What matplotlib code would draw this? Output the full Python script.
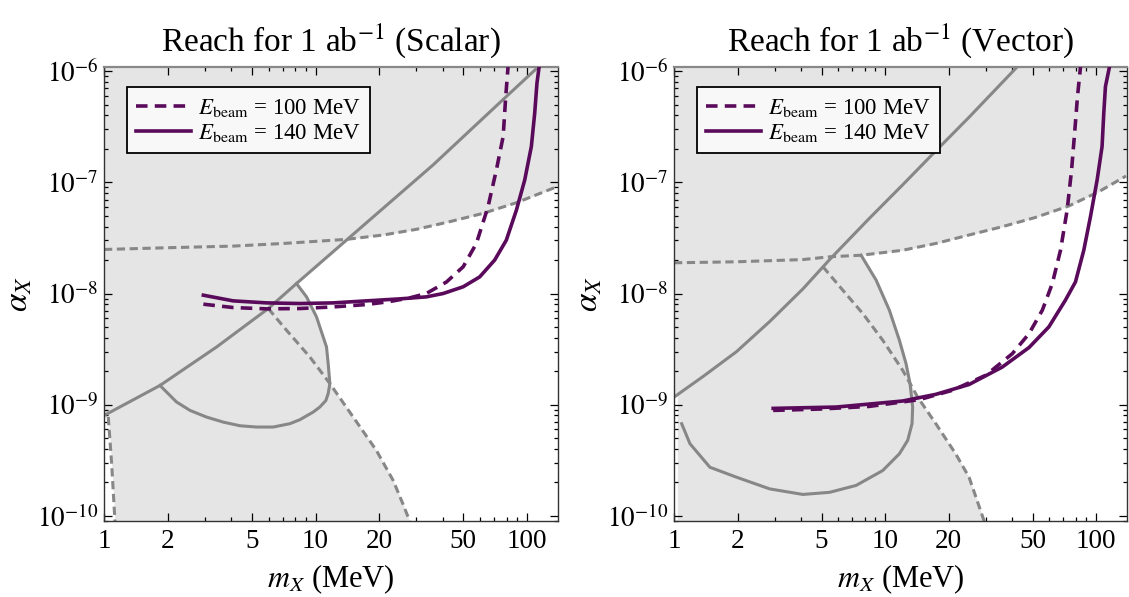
import numpy as np
import matplotlib
matplotlib.use("Agg")
import matplotlib.pyplot as plt
from matplotlib.lines import Line2D

plt.rcParams['font.family'] = ['Liberation Serif', 'DejaVu Serif']
plt.rcParams['mathtext.fontset'] = 'stix'

# ---------------- data (m_X in MeV, alpha_X) ----------------
# Scalar panel
s_diag_m = np.array([1.0, 1.84, 3.41, 5.98, 8.13, 14.0, 35.9, 79.8, 112.7])
s_diag_a = np.array([8.0e-10, 1.49e-9, 3.31e-9, 7.33e-9, 1.23e-8, 3.02e-8, 1.43e-7, 5.91e-7, 1.087e-6])
s_up_m = np.array([1.0, 1.98, 4.08, 7.03, 14.0, 20.9, 30.0, 43.1, 62.0, 89.1, 138.6])
s_up_a = np.array([2.49e-8, 2.58e-8, 2.67e-8, 2.82e-8, 3.07e-8, 3.36e-8, 3.78e-8, 4.43e-8, 5.26e-8, 6.56e-8, 9.14e-8])
s_loop_m = np.array([1.84, 1.977, 2.20, 2.55, 3.05, 3.66, 4.39, 5.26, 6.31, 7.56, 8.43, 9.75, 10.48,
                     11.19, 11.48, 11.69, 11.48, 11.27, 10.11, 9.07, 8.13])
s_loop_a = np.array([1.49e-9, 1.30e-9, 1.06e-9, 8.89e-10, 7.75e-10, 6.98e-10, 6.47e-10, 6.30e-10,
                     6.30e-10, 6.75e-10, 7.33e-10, 8.59e-10, 9.53e-10, 1.09e-9, 1.26e-9, 1.55e-9,
                     2.34e-9, 3.31e-9, 6.16e-9, 9.33e-9, 1.23e-8])
s_low_m = np.array([5.98, 7.29, 9.40, 11.69, 15.07, 19.4, 23.3, 25.9, 27.9])
s_low_a = np.array([7.33e-9, 4.68e-9, 2.69e-9, 1.55e-9, 7.75e-10, 3.88e-10, 2.08e-10, 1.28e-10, 8.95e-11])
s_edge_m = np.array([1.048, 1.087, 1.127])
s_edge_a = np.array([7.75e-10, 2.94e-10, 8.95e-11])
s_e100_m = np.array([2.95, 4.08, 5.87, 8.43, 12.12, 17.4, 22.4, 27.9, 33.4, 41.6, 49.9, 57.6, 65.4,
                     71.6, 77.1, 79.3, 81.3])
s_e100_a = np.array([8.02e-9, 7.48e-9, 7.28e-9, 7.33e-9, 7.58e-9, 7.96e-9, 8.47e-9, 9.14e-9, 1.0e-8,
                     1.27e-8, 1.74e-8, 2.82e-8, 6.04e-8, 1.29e-7, 2.58e-7, 5.91e-7, 1.087e-6])
s_e140_m = np.array([2.95, 4.08, 5.87, 8.43, 12.12, 17.4, 25.0, 33.4, 40.1, 49.9, 59.7, 70.3, 79.8,
                     89.1, 97.5, 104.8, 108.7, 111.4, 114.0])
s_e140_a = np.array([9.66e-9, 8.59e-9, 8.24e-9, 8.13e-9, 8.24e-9, 8.59e-9, 8.95e-9, 9.33e-9, 1.0e-8,
                     1.15e-8, 1.41e-8, 2.0e-8, 3.02e-8, 5.64e-8, 1.05e-7, 2.10e-7, 4.19e-7, 7.8e-7, 1.087e-6])

# Vector panel
v_diag_m = np.array([1.0, 1.376, 1.977, 2.84, 4.08, 5.5, 8.43, 12.12, 17.4, 25.0, 42.4])
v_diag_a = np.array([1.17e-9, 1.80e-9, 3.0e-9, 5.6e-9, 1.1e-8, 2.05e-8, 4.75e-8, 9.5e-8, 1.92e-7,
                     3.85e-7, 1.1e-6])
v_up_m = np.array([1.0, 1.98, 4.08, 5.46, 7.70, 12.12, 17.4, 25.0, 35.9, 51.7, 74.1, 103.0, 138.6])
v_up_a = np.array([1.89e-8, 1.93e-8, 2.02e-8, 2.14e-8, 2.21e-8, 2.45e-8, 2.82e-8, 3.36e-8, 3.99e-8,
                   4.84e-8, 6.12e-8, 8.24e-8, 1.14e-7])
v_loop_m = np.array([7.70, 9.07, 10.48, 11.69, 12.57, 13.13, 13.51, 13.42, 12.8, 11.69, 9.75, 7.29,
                     5.46, 4.08, 2.84, 1.977, 1.479, 1.19, 1.087])
v_loop_a = np.array([2.21e-8, 1.32e-8, 7.08e-9, 3.80e-9, 2.34e-9, 1.55e-9, 9.53e-10, 6.75e-10, 4.78e-10,
                     3.62e-10, 2.56e-10, 1.88e-10, 1.63e-10, 1.56e-10, 1.75e-10, 2.23e-10, 2.74e-10,
                     4.46e-10, 6.75e-10])
v_low_m = np.array([5.08, 6.31, 7.84, 9.75, 12.12, 14.27, 17.4, 21.6, 25.0, 29.5])
v_low_a = np.array([1.74e-8, 1.07e-8, 6.61e-9, 3.80e-9, 2.04e-9, 1.17e-9, 6.75e-10, 3.62e-10, 2.23e-10, 8.95e-11])
v_e100_m = np.array([2.95, 4.90, 8.43, 14.5, 20.9, 30.0, 40.1, 48.1, 55.6, 62.0, 67.8, 72.9, 76.5,
                     79.3, 81.6, 84.3])
v_e100_a = np.array([8.89e-10, 9.14e-10, 9.66e-10, 1.11e-9, 1.35e-9, 1.84e-9, 2.88e-9, 4.36e-9, 7.08e-9,
                     1.23e-8, 2.45e-8, 5.64e-8, 1.29e-7, 2.96e-7, 5.91e-7, 1.087e-6])
v_e140_m = np.array([2.95, 5.87, 12.12, 17.4, 25.0, 35.9, 48.1, 59.7, 71.5, 79.8, 87.4, 94.0, 101.1,
                     106.7, 108.7, 110.7, 115.6])
v_e140_a = np.array([9.27e-10, 9.53e-10, 1.08e-9, 1.24e-9, 1.52e-9, 2.18e-9, 3.27e-9, 5.01e-9, 8.71e-9,
                     1.27e-8, 2.45e-8, 4.91e-8, 1.05e-7, 2.10e-7, 4.19e-7, 7.27e-7, 1.087e-6])

titles = [r"Reach for 1 ab$^{-1}$ (Scalar)", r"Reach for 1 ab$^{-1}$ (Vector)"]
legend_labels = [r"$E_{\mathrm{beam}}$ = 100 MeV", r"$E_{\mathrm{beam}}$ = 140 MeV"]
xticks = [1, 2, 5, 10, 20, 50, 100]
xlim = (1, 140)
ylim = (9e-11, 1.09e-6)

SHADE = '#e5e5e5'
GRAY = '#878787'
PURPLE = '#5a0a5a'


def interp_x(m, a, y):
    o = np.argsort(a)
    out = 10 ** np.interp(np.log10(y), np.log10(a[o]), np.log10(m[o]))
    out[(y < a.min()) | (y > a.max())] = np.nan
    return out


def right_branch(m, a):
    k = np.argmax(m)
    if a[0] > a[-1]:
        return m[:k + 1], a[:k + 1]
    return m[k:], a[k:]


def panel(ax, diag, up, loop, low, e100, e140, edge, title):
    top = 1e-5
    ax.fill_between(up[0], up[1], top, color=SHADE, lw=0, zorder=0)
    ax.fill_between(diag[0], diag[1], top, color=SHADE, lw=0, zorder=0)
    lm, la = right_branch(*loop)
    ymax = max(la.max(), low[1].max())
    y = np.geomspace(5e-11, ymax, 600)
    xr = np.fmax(np.nan_to_num(interp_x(lm, la, y), nan=0), np.nan_to_num(interp_x(low[0], low[1], y), nan=0))
    if isinstance(edge, tuple):
        xl = interp_x(edge[0], edge[1], y)
        xl = np.where(y > edge[1].max(), 0.9, xl)
        xl = np.where(y < edge[1].min(), edge[0].max(), xl)
    else:
        xl = np.full_like(y, edge)
    ax.fill_betweenx(y, xl, xr, where=xr > xl, color=SHADE, lw=0, zorder=0)

    kw = dict(color=GRAY, lw=2.2, zorder=2)
    ax.plot(diag[0], diag[1], **kw)
    ax.plot(loop[0], loop[1], **kw)
    ax.plot(up[0], up[1], dashes=(2.7, 1.5), **kw)
    ax.plot(low[0], low[1], dashes=(2.7, 1.5), **kw)
    if isinstance(edge, tuple):
        ax.plot(edge[0], edge[1], dashes=(2.7, 1.5), **kw)

    ax.plot(e100[0], e100[1], color=PURPLE, lw=2.6, dashes=(3.2, 2.0), zorder=3)
    ax.plot(e140[0], e140[1], color=PURPLE, lw=2.6, zorder=3)

    ax.set_xscale('log')
    ax.set_yscale('log')
    ax.set_xlim(*xlim)
    ax.set_xticks(xticks)
    ax.set_xticklabels([str(t) for t in xticks])
    ax.set_xticks([3, 4, 6, 7, 8, 9, 30, 40, 60, 70, 80, 90], minor=True)
    ax.set_yticks([1e-10, 1e-9, 1e-8, 1e-7, 1e-6])
    ax.set_yticklabels([r"$10^{-10}$", r"$10^{-9}$", r"$10^{-8}$", r"$10^{-7}$", r"$10^{-6}$"])
    ax.set_yticks([k * 10.0 ** e for e in range(-11, -5) for k in range(2, 10)], minor=True)
    ax.set_ylim(*ylim)
    ax.tick_params(which='both', direction='in', top=True, right=True, labelsize=19.5, width=0.9)
    ax.tick_params(which='major', length=6)
    ax.tick_params(which='minor', length=3)
    ax.tick_params(axis='x', pad=6)
    ax.tick_params(axis='y', pad=4)
    for s in ax.spines.values():
        s.set_color('#333333')
        s.set_linewidth(1.0)
    ax.spines['top'].set_color('#888888')
    ax.spines['top'].set_linewidth(1.6)

    ax.set_xlabel(r"$m_X$ (MeV)", fontsize=22, labelpad=6)
    ax.set_ylabel(r"$\alpha_X$", fontsize=24, labelpad=2)
    ax.set_title(title, fontsize=24, pad=12)

    handles = [Line2D([], [], color=PURPLE, lw=2.6, dashes=(3.2, 2.0)),
               Line2D([], [], color=PURPLE, lw=2.6)]
    leg = ax.legend(handles, legend_labels, loc='upper left', bbox_to_anchor=(0.05, 0.955),
                    borderaxespad=0, fontsize=16.5, handlelength=2.4, handletextpad=0.3,
                    fancybox=False, framealpha=1, borderpad=0.4, labelspacing=0.15)
    leg.get_frame().set_edgecolor('black')
    leg.get_frame().set_linewidth(1.3)
    leg.get_frame().set_facecolor('#f8f8f8')
    leg.set_zorder(5)


fig = plt.figure(figsize=(11.29, 5.97), dpi=100)
ax1 = fig.add_axes([0.0921, 0.1273, 0.4021, 0.7605])
ax2 = fig.add_axes([0.5970, 0.1273, 0.4012, 0.7605])

panel(ax1, (s_diag_m, s_diag_a), (s_up_m, s_up_a), (s_loop_m, s_loop_a), (s_low_m, s_low_a),
      (s_e100_m, s_e100_a), (s_e140_m, s_e140_a), (s_edge_m, s_edge_a), titles[0])
panel(ax2, (v_diag_m, v_diag_a), (v_up_m, v_up_a), (v_loop_m, v_loop_a), (v_low_m, v_low_a),
      (v_e100_m, v_e100_a), (v_e140_m, v_e140_a), 1.037, titles[1])

fig.savefig('out.png', dpi=100)
